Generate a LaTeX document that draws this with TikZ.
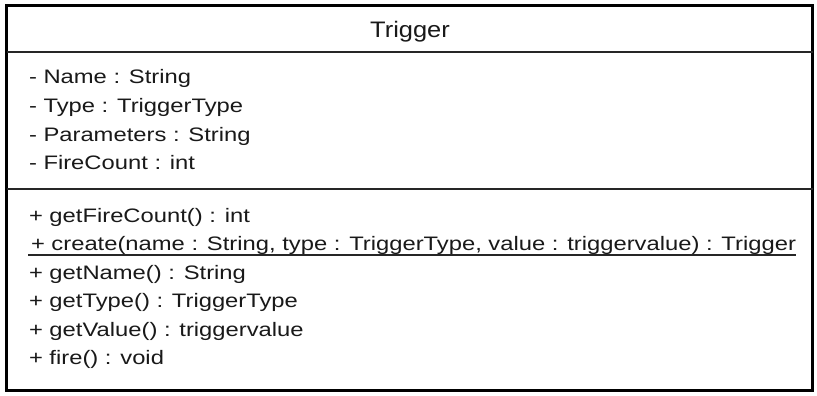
\documentclass[tikz,border=0pt]{standalone}
\usepackage{fontspec}
\setmainfont{Liberation Sans}
\usepackage{graphicx}

% Shared font for the class compartments
\newcommand\umlfont{\fontsize{19.5}{22}\selectfont}
% Horizontal scale chosen so the longest member line spans its compartment
\newsavebox\longestline
\sbox\longestline{\umlfont + create(name : String, type : TriggerType, value : triggervalue) : Trigger}

\begin{document}
\pgfmathsetmacro\hs{765/\wd\longestline}
\pgfmathsetmacro\hsT{\hs*1.07}
\newcommand\member[1]{\scalebox{\hs}[1]{\umlfont #1}}
\newcommand\classtitle[1]{\scalebox{\hsT}[1.15]{\umlfont #1}}

\begin{tikzpicture}[x=1pt, y=-1pt,
  member/.style={anchor=base west, inner sep=0pt, outer sep=0pt, text=black!90},
  title/.style={anchor=base, inner sep=0pt, outer sep=0pt, text=black!90},
  frame/.style={draw=black, line width=3pt},
  divider/.style={draw=black!85, line width=2pt},
  underl/.style={draw=black!85, line width=1.4pt}]

  % canvas
  \fill[white] (0,0) rectangle (817,396);
  \useasboundingbox (0,0) rectangle (817,396);

  % class frame and compartment separators
  \draw[frame] (6.5,5.5) rectangle (812.5,390.5);
  \coordinate (d1w) at (6.5,52);
  \coordinate (d1e) at (812.5,52);
  \coordinate (d2w) at (6.5,188.5);
  \coordinate (d2e) at (812.5,188.5);
  \draw[divider] (d1w) -- (d1e);
  \draw[divider] (d2w) -- (d2e);

  % class name
  \node[title] (name) at (410,38) {\classtitle{Trigger}};

  % attributes
  \node[member] (a1) at (29,84)  {\member{- Name : String}};
  \node[member] (a2) at (29,112.5) {\member{- Type : TriggerType}};
  \node[member] (a3) at (29,141) {\member{- Parameters : String}};
  \node[member] (a4) at (29,169.5) {\member{- FireCount : int}};

  % operations
  \node[member] (m1) at (29,222)   {\member{+ getFireCount() : int}};
  \node[member] (m2) at (31,250.5) {\member{+ create(name : String, type : TriggerType, value : triggervalue) : Trigger}};
  \node[member] (m3) at (29,279)   {\member{+ getName() : String}};
  \node[member] (m4) at (29,307.5) {\member{+ getType() : TriggerType}};
  \node[member] (m5) at (29,336)   {\member{+ getValue() : triggervalue}};
  \node[member] (m6) at (29,364.5) {\member{+ fire() : void}};

  % static operation is underlined
  \draw[underl] ([xshift=-3pt,yshift=-4.5pt]m2.base west) -- ([yshift=-4.5pt]m2.base east);
\end{tikzpicture}
\end{document}
